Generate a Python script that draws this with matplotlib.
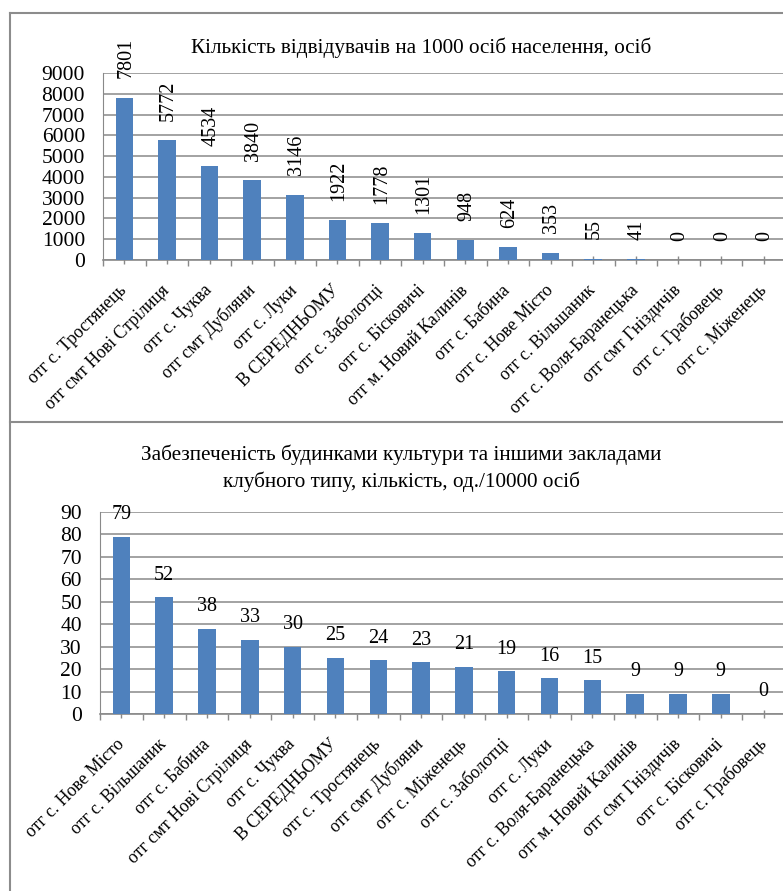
import numpy as np
import matplotlib
matplotlib.use("Agg")
import matplotlib.pyplot as plt
from matplotlib.lines import Line2D

plt.rcParams['font.family'] = ['Liberation Serif', 'DejaVu Serif']

# --- data ---
visit_labels = ["отг с. Тростянець", "отг смт Нові Стрілиця", "отг с. Чуква",
                "отг смт Дубляни", "отг с. Луки", "В СЕРЕДНЬОМУ",
                "отг с. Заболотці", "отг с. Бісковичі", "отг м. Новий Калинів",
                "отг с. Бабина", "отг с. Нове Місто", "отг с. Вільшаник",
                "отг с. Воля-Баранецька", "отг смт Гніздичів",
                "отг с. Грабовець", "отг с. Міженець"]
visit_values = [7801, 5772, 4534, 3840, 3146, 1922, 1778, 1301, 948, 624,
                353, 55, 41, 0, 0, 0]
visit_title = "Кількість відвідувачів на 1000 осіб населення, осіб"

club_labels = ["отг с. Нове Місто", "отг с. Вільшаник", "отг с. Бабина",
               "отг смт Нові Стрілиця", "отг с. Чуква", "В СЕРЕДНЬОМУ",
               "отг с. Тростянець", "отг смт Дубляни", "отг с. Міженець",
               "отг с. Заболотці", "отг с. Луки", "отг с. Воля-Баранецька",
               "отг м. Новий Калинів", "отг смт Гніздичів",
               "отг с. Бісковичі", "отг с. Грабовець"]
club_values = [79, 52, 38, 33, 30, 25, 24, 23, 21, 19, 16, 15, 9, 9, 9, 0]
club_title = ("Забезпеченість будинками культури та іншими закладами\n"
              "клубного типу, кількість, од./10000 осіб")

W, H = 783, 891
BLUE = '#4f81bd'
GRID = '#898989'
fig = plt.figure(figsize=(W / 100, H / 100), dpi=100)


def px_axes(left, top, right, bottom):
    return fig.add_axes([left / W, 1 - bottom / H, (right - left) / W,
                         (bottom - top) / H])


def draw_panel(ax, labels, values, ymax, step, vertical_labels):
    n = len(values)
    x = np.arange(n)
    ax.bar(x, values, width=0.41, color=BLUE, zorder=3)
    ax.set_xlim(-0.5, n - 0.5)
    ax.set_ylim(0, ymax)
    ax.set_yticks(np.arange(0, ymax + 1, step))
    ax.yaxis.grid(True, color=GRID, lw=1.1, zorder=0)
    ax.tick_params(axis='y', length=0, pad=13, labelsize=15.5)
    ax.set_xticks(x)
    ax.set_xticklabels(labels, rotation=45, ha='right', va='center',
                       rotation_mode='anchor', fontsize=12.8)
    ax.set_xticks(np.arange(n + 1) - 0.5, minor=True)
    ax.tick_params(axis='x', which='major', direction='inout', length=6,
                   width=1, color=GRID, pad=17)
    ax.tick_params(axis='x', which='minor', direction='out', length=4,
                   width=1, color=GRID)
    for s in ['top', 'right']:
        ax.spines[s].set_visible(False)
    ax.spines['left'].set_color(GRID)
    ax.spines['bottom'].set_color(GRID)
    ax.spines['bottom'].set_linewidth(1.2)
    for xi, v in zip(x, values):
        if vertical_labels:
            ax.annotate(str(v), (xi, v), xytext=(1, 14),
                        textcoords='offset points', rotation=90,
                        ha='center', va='bottom', fontsize=14.5, zorder=4)
        else:
            ax.annotate(str(v), (xi, v), xytext=(0, 9),
                        textcoords='offset points',
                        ha='center', va='bottom', fontsize=14.5, zorder=4)


ax1 = px_axes(103, 73, 785, 260)
draw_panel(ax1, visit_labels, visit_values, 9000, 1000, True)
fig.text(421 / W, 1 - 48 / H, visit_title, ha='center', va='center',
         fontsize=15.3)

ax2 = px_axes(100, 512, 785, 714)
draw_panel(ax2, club_labels, club_values, 90, 10, False)
fig.text(401 / W, 1 - 468 / H, club_title, ha='center', va='center',
         fontsize=15.3, linespacing=1.4)

# chart frames
frame = dict(color='#8c8c8c', lw=1.5, transform=fig.transFigure)
fig.lines.append(Line2D([10 / W, 10 / W], [0, 1 - 13 / H], **frame))
fig.lines.append(Line2D([10 / W, 1], [1 - 13 / H, 1 - 13 / H], **frame))
fig.lines.append(Line2D([10 / W, 1], [1 - 422 / H, 1 - 422 / H], **frame))

fig.savefig('out.png', dpi=100)
